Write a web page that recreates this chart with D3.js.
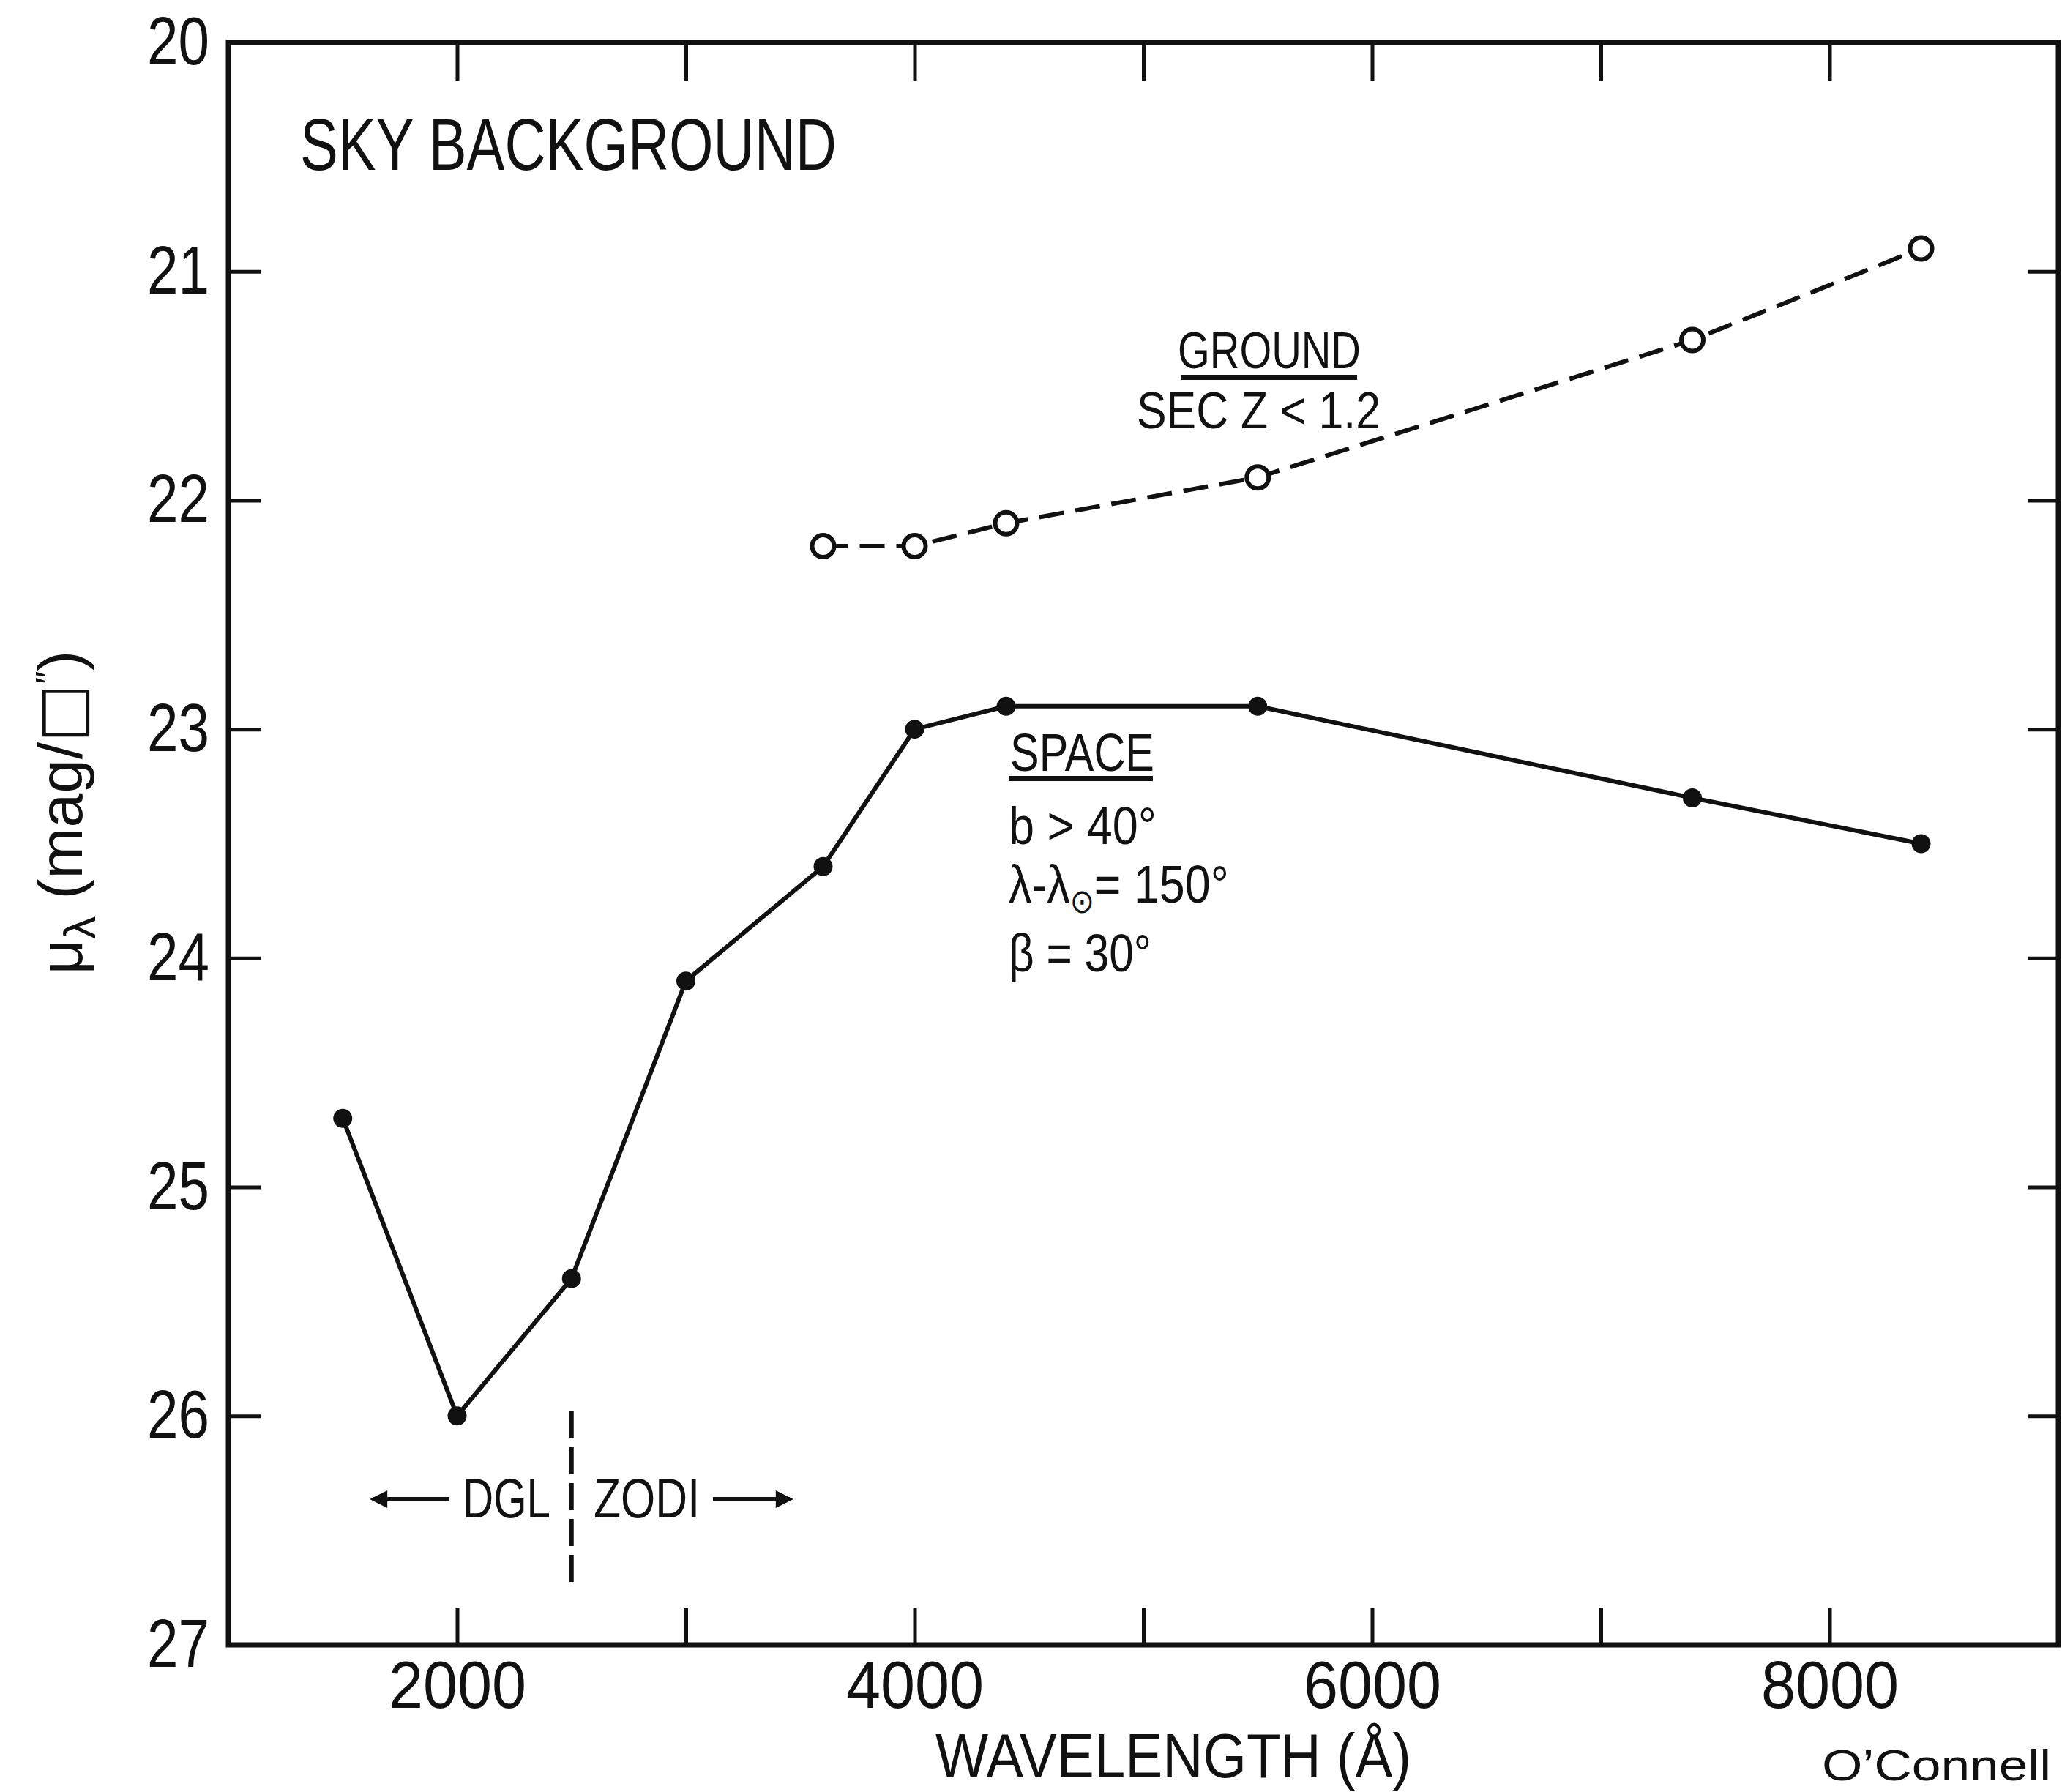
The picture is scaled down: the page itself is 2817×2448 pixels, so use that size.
<!DOCTYPE html>
<html>
<head>
<meta charset="utf-8">
<script src="https://cdn.jsdelivr.net/npm/d3@7"></script>
<style>
body { margin: 0; background: #fff; }
text { font-family: "Liberation Sans", Arial, sans-serif; fill: #111; }
</style>
</head>
<body>
<svg></svg>
<script>
// values
var spaceWave = [1500, 2000, 2500, 3000, 3600, 4000, 4400, 5500, 7400, 8400];
var spaceMag = [24.7, 26.0, 25.4, 24.1, 23.6, 23.0, 22.9, 22.9, 23.3, 23.5];
var groundWave = [3600, 4000, 4400, 5500, 7400, 8400];
var groundMag = [22.2, 22.2, 22.1, 21.9, 21.3, 20.9];
var xTicks = [2000, 3000, 4000, 5000, 6000, 7000, 8000];
var xLabelled = [2000, 4000, 6000, 8000];
var yTicks = [20, 21, 22, 23, 24, 25, 26, 27];
var divideWave = 2500;
var divideMag = [25.98, 26.75];

function skyPlot() {
    var width = 2817, height = 2448;
    var left = 312, right = 2812, top = 58, bottom = 2247;

    var svg = d3.select("svg")
            .attr("width", width)
            .attr("height", height);

    var x = d3.scaleLinear().domain([1000, 9000]).range([left, right]);
    var y = d3.scaleLinear().domain([20, 27]).range([top, bottom]);

    // ticks point inward on all four sides
    var xBottom = d3.axisBottom(x).tickValues(xTicks).tickSize(-50).tickPadding(22)
            .tickFormat(function(d) { return xLabelled.indexOf(d) >= 0 ? d : ""; });
    var xTop = d3.axisTop(x).tickValues(xTicks).tickSize(-52).tickFormat("");
    var yLeft = d3.axisLeft(y).tickValues(yTicks).tickSize(-45).tickPadding(26)
            .tickFormat(d3.format("d"));
    var yRight = d3.axisRight(y).tickValues(yTicks).tickSize(-42).tickFormat("");

    var gb = svg.append("g").attr("transform", "translate(0," + bottom + ")").call(xBottom);
    svg.append("g").attr("transform", "translate(0," + top + ")").call(xTop);
    var gl = svg.append("g").attr("transform", "translate(" + left + ",0)").call(yLeft);
    svg.append("g").attr("transform", "translate(" + right + ",0)").call(yRight);

    svg.selectAll(".domain").remove();
    svg.selectAll(".tick line").attr("stroke", "#111").attr("stroke-width", 5);
    gb.selectAll("text").attr("fill", "#111")
            .style("font-family", "'Liberation Sans', Arial, sans-serif")
            .style("font-size", "90px")
            .attr("textLength", function(d) { return xLabelled.indexOf(d) >= 0 ? 188 : null; })
            .attr("lengthAdjust", "spacingAndGlyphs");
    gl.selectAll("text").attr("fill", "#111")
            .style("font-family", "'Liberation Sans', Arial, sans-serif")
            .style("font-size", "92px")
            .attr("textLength", 85).attr("lengthAdjust", "spacingAndGlyphs");

    svg.append("rect")
            .attr("x", left).attr("y", top)
            .attr("width", right - left).attr("height", bottom - top)
            .attr("fill", "none").attr("stroke", "#111").attr("stroke-width", 7);

    var line = d3.line()
            .x(function(d) { return x(d[0]); })
            .y(function(d) { return y(d[1]); });

    var space = d3.zip(spaceWave, spaceMag);
    var ground = d3.zip(groundWave, groundMag);

    svg.append("path").datum(space).attr("d", line)
            .attr("fill", "none").attr("stroke", "#111").attr("stroke-width", 6);
    svg.selectAll(".dot").data(space).enter().append("circle")
            .attr("class", "dot")
            .attr("cx", function(d) { return x(d[0]); })
            .attr("cy", function(d) { return y(d[1]); })
            .attr("r", 13).attr("fill", "#111");

    svg.append("path").datum(ground).attr("d", line)
            .attr("fill", "none").attr("stroke", "#111").attr("stroke-width", 6)
            .attr("stroke-dasharray", "34,16");
    svg.selectAll(".ring").data(ground).enter().append("circle")
            .attr("class", "ring")
            .attr("cx", function(d) { return x(d[0]); })
            .attr("cy", function(d) { return y(d[1]); })
            .attr("r", 15).attr("fill", "#fff").attr("stroke", "#111").attr("stroke-width", 6);

    // DGL / ZODI divider
    svg.append("line")
            .attr("x1", x(divideWave)).attr("x2", x(divideWave))
            .attr("y1", y(divideMag[0])).attr("y2", y(divideMag[1]))
            .attr("stroke", "#111").attr("stroke-width", 6).attr("stroke-dasharray", "37,12");

    svg.append("defs").append("marker")
            .attr("id", "head").attr("viewBox", "0 0 10 10")
            .attr("refX", 8).attr("refY", 5)
            .attr("markerWidth", 5).attr("markerHeight", 4).attr("markerUnits", "strokeWidth")
            .attr("orient", "auto")
            .append("path").attr("d", "M0,0L10,5L0,10z").attr("fill", "#111");

    svg.append("line").attr("x1", 614).attr("x2", 510).attr("y1", 2048).attr("y2", 2048)
            .attr("stroke", "#111").attr("stroke-width", 6).attr("marker-end", "url(#head)");
    svg.append("line").attr("x1", 974).attr("x2", 1079).attr("y1", 2048).attr("y2", 2048)
            .attr("stroke", "#111").attr("stroke-width", 6).attr("marker-end", "url(#head)");

    function label(tx, ty, size, len, str) {
        return svg.append("text").attr("x", tx).attr("y", ty)
                .style("font-size", size + "px")
                .attr("textLength", len).attr("lengthAdjust", "spacingAndGlyphs")
                .text(str);
    }

    label(632, 2073, 76, 120, "DGL");
    label(811, 2073, 76, 145, "ZODI");

    label(410, 232, 100, 733, "SKY BACKGROUND");

    label(1609, 503, 70, 250, "GROUND");
    svg.append("rect").attr("x", 1613).attr("y", 512).attr("width", 241).attr("height", 7).attr("fill", "#111");
    label(1553, 585, 70, 333, "SEC  Z < 1.2");

    label(1380, 1053, 73, 197, "SPACE");
    svg.append("rect").attr("x", 1378).attr("y", 1060).attr("width", 197).attr("height", 7).attr("fill", "#111");
    label(1378, 1153, 73, 202, "b > 40°");
    var lam = svg.append("text").attr("transform", "translate(1378,1233) scale(0.86,1)")
            .style("font-size", "73px");
    lam.append("tspan").text("λ-λ");
    lam.append("tspan").attr("dy", 14).style("font-size", "46px")
            .style("font-family", "'DejaVu Sans', sans-serif").attr("fill", "#111").text("⊙");
    lam.append("tspan").attr("dy", -14).text("= 150°");
    label(1378, 1327, 73, 195, "β = 30°");

    label(1278, 2428, 86, 650, "WAVELENGTH (Å)");

    var yl = svg.append("text").attr("transform", "translate(112,1110) rotate(-90)")
            .attr("text-anchor", "middle").style("font-size", "84px");
    yl.append("tspan").text("μ");
    yl.append("tspan").attr("dy", 18).style("font-size", "62px").text("λ");
    yl.append("tspan").attr("dy", -18).text(" (mag/");
    yl.append("tspan").style("font-family", "'DejaVu Sans', sans-serif").text("□");
    yl.append("tspan").attr("dy", -28).style("font-size", "50px").text("″");
    yl.append("tspan").attr("dy", 28).text(")");

    label(2489, 2432, 60, 313, "O’Connell");
}

skyPlot();
</script>
</body>
</html>
